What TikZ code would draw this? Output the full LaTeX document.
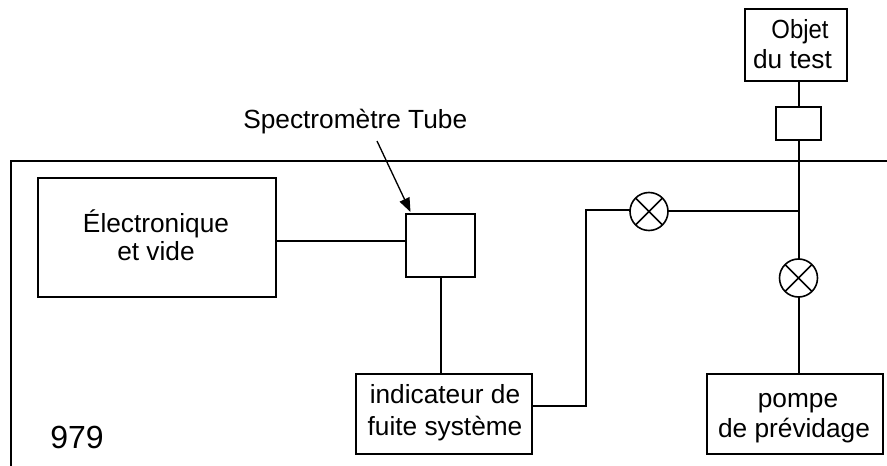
\documentclass[tikz,border=0pt]{standalone}
\usepackage{graphicx}
\usepackage{fontspec}
\setmainfont{Liberation Sans}
\usetikzlibrary{arrows.meta}
\tikzset{
 ln/.style={line width=1.5pt},
 boxn/.style 2 args={draw,line width=1.5pt,inner sep=0pt,outer sep=0pt,minimum width={#1*0.75pt},minimum height={#2*0.75pt}},
 lab/.style={inner sep=0pt,anchor=base,font=\fontsize{19.7}{24}\selectfont},
 valve/.style={draw,circle,line width=1.2pt,minimum size=28.5pt,inner sep=0pt,outer sep=0pt,
   path picture={\draw[line width=1.1pt] (path picture bounding box.south west)--(path picture bounding box.north east)
     (path picture bounding box.north west)--(path picture bounding box.south east);}}
}
\begin{document}
\begin{tikzpicture}[x=0.75pt,y=-0.75pt]
\useasboundingbox (0,0) rectangle (887,466);
\coordinate (fb) at (11,466); \coordinate (fc) at (11,161.5); \coordinate (fr) at (887,161.5);
\draw[ln] (fb) -- (fc) -- (fr);
\node[boxn={102}{72}] (obj) at (796,45) {};
\node[boxn={45}{33}] (conn) at (798.5,123.5) {};
\node[boxn={238}{119}] (elec) at (157,237.5) {};
\node[boxn={69}{63}] (spec) at (440.5,245.5) {};
\node[boxn={176}{80}] (ind) at (443.5,414) {};
\node[boxn={176}{80}] (pump) at (794.5,414) {};
\node[valve] (v1) at (649,211.5) {};
\node[valve] (v2) at (798.5,278) {};
\coordinate (junc) at (v2 |- v1);
\coordinate (bend1) at (585.5,406);
\coordinate (bend2) at (585.5,210);
\coordinate (arrowstart) at (377,141);
\coordinate (arrowtip) at (410.5,212);
\coordinate (elecout) at (276,241.5);
\node[lab] (tobj) at (800,39) {\scalebox{.91}[1]{Objet}};
\node[lab] (tobj2) at (792.5,69) {du test};
\node[lab] (tel) at (156,233) {Électronique};
\node[lab] (tel2) at (156,261) {et vide};
\node[lab,anchor=base west] (tsp) at (243,129) {Spectromètre Tube};
\node[lab] (tin) at (445,403) {indicateur de};
\node[lab] (tin2) at (445,435) {fuite système};
\node[lab] (tpu) at (798,407) {pompe};
\node[lab] (tpu2) at (794,437) {de prévidage};
\node[lab,anchor=base west,font=\fontsize{24}{28}\selectfont] (tnum) at (50,448) {979};
\draw[ln] (conn.north -| v2) -- (obj.south -| v2);
\draw[ln] (conn.south -| v2) -- (v2.north);
\draw[ln] (v2.south) -- (pump.north -| v2);
\draw[ln] (v1.east) -- (junc);
\draw[ln] (ind.east |- bend1) -- (bend1) -- (bend2) -- (v1.west |- bend2);
\draw[ln] (elecout) -- (spec.west |- elecout);
\draw[ln] (spec.south) -- (spec.south |- ind.north);
\draw[line width=1pt,-{Triangle[length=10.5pt,width=8pt]}] (arrowstart) -- (arrowtip);
\end{tikzpicture}
\end{document}
